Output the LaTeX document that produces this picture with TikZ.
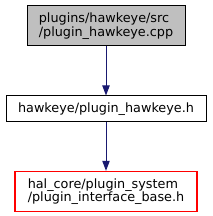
\documentclass[tikz,border=0pt]{standalone}
\usepackage{fontspec}
\setmainfont{DejaVu Sans}
\usetikzlibrary{arrows.meta,positioning}
\definecolor{BoxGray}{RGB}{191,191,191}
\definecolor{EdgeBlue}{RGB}{25,25,112}
\definecolor{LinkRed}{RGB}{255,0,0}
\tikzset{
  filebox/.style={draw=black,fill=white,text=black,line width=0.75pt,
    inner sep=0pt,minimum height=30pt,align=left,
    font=\fontsize{9.6}{10}\selectfont},
  currentbox/.style={filebox,fill=BoxGray},
  extbox/.style={filebox,draw=LinkRed,line width=1.1pt},
  include/.style={-{Triangle[length=7.5pt,width=5.5pt]},line width=0.75pt,
    draw=EdgeBlue,fill=EdgeBlue}
}

\begin{document}
\begin{tikzpicture}[node distance=36.75pt]
  \useasboundingbox (0,0) rectangle (159pt,-162pt);
  \node[currentbox,minimum width=118.5pt] (cpp) at (79.5pt,-19.5pt)
    {plugins/hawkeye/src\\/plugin\_hawkeye.cpp};
  \node[filebox,minimum width=150pt,minimum height=19pt,below=of cpp] (hdr)
    {hawkeye/plugin\_hawkeye.h};
  \node[extbox,minimum width=136.5pt,below=of hdr] (base)
    {hal\_core/plugin\_system\\/plugin\_interface\_base.h};
  \draw[include] (cpp) -- (hdr);
  \draw[include] (hdr) -- (base);
\end{tikzpicture}
\end{document}
